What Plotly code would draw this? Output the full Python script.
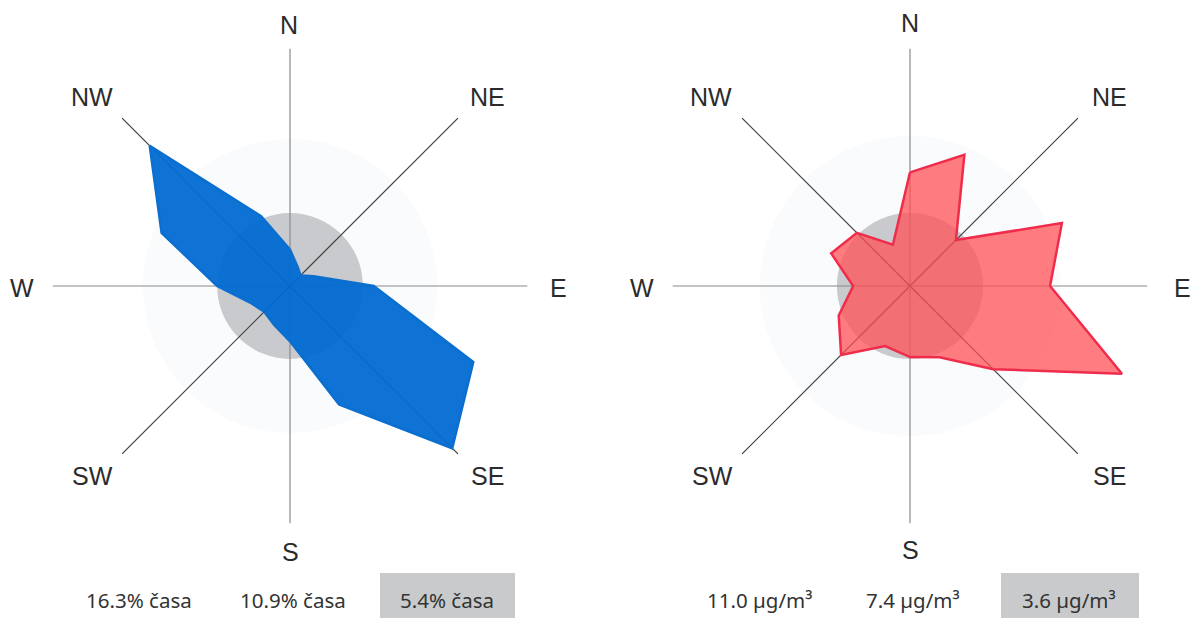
import plotly.graph_objects as go

# wind directions, clockwise from north
directions = [0, 22.5, 45, 67.5, 90, 112.5, 135, 157.5, 180, 202.5, 225, 247.5, 270, 292.5, 315, 337.5]

# share of time per direction (%)
time_values = [2.7, 1.5, 1.1, 1.9, 6.2, 14.7, 17.0, 9.5, 4.1, 3.1, 2.7, 3.2, 5.4, 10.3, 14.7, 5.6]
# concentration per direction (ug/m3)
conc_values = [5.6, 7.0, 3.2, 8.1, 6.9, 11.3, 5.8, 3.8, 3.5, 3.2, 4.8, 3.8, 2.8, 4.2, 3.7, 2.2]

time_rings = [10.9, 5.4]
conc_rings = [7.4, 3.6]
time_labels = ['16.3% časa', '10.9% časa', '5.4% časa']
conc_labels = ['11.0 µg/m³', '7.4 µg/m³', '3.6 µg/m³']

compass_names = ['N', 'NE', 'E', 'SE', 'S', 'SW', 'W', 'NW']
compass_angles = [0, 45, 90, 135, 180, 225, 270, 315]

W, H = 1191, 618


def px(x):
    return x / W


def py(y):
    return 1 - y / H


def add_rose(fig, subplot, values, rings, rmax, fill, line):
    ring_colors = ['#fafbfc', '#c9cacd']
    for ring, color in zip(rings, ring_colors):
        fig.add_trace(go.Barpolar(r=[ring], theta=[0], width=[360], marker=dict(color=color, line=dict(width=0)),
                                  subplot=subplot, hoverinfo='skip'))
    for angle in compass_angles:
        color = '#8a8a8a' if angle % 90 == 0 else '#3f3f3f'
        fig.add_trace(go.Scatterpolar(r=[0, rmax], theta=[angle, angle], mode='lines',
                                      line=dict(color=color, width=1.2), subplot=subplot, hoverinfo='skip'))
    fig.add_trace(go.Scatterpolar(r=values + values[:1], theta=directions + directions[:1], mode='lines',
                                  fill='toself', fillcolor=fill, line=dict(color=line, width=2.5),
                                  subplot=subplot))


fig = go.Figure()
add_rose(fig, 'polar', time_values, time_rings, 17.6, 'rgba(0,105,210,0.94)', '#0a6fce')
add_rose(fig, 'polar2', conc_values, conc_rings, 11.7, 'rgba(255,80,85,0.75)', '#f02c4c')

polar_style = dict(
    bgcolor='white',
    barmode='overlay',
    radialaxis=dict(visible=False),
    angularaxis=dict(visible=False, direction='clockwise', rotation=90, thetaunit='degrees'),
)

# compass labels
left_pos = [(289, 25), (487, 97), (558, 288), (487, 476), (290, 552), (92, 476), (22, 288), (92, 97)]
right_pos = [(910, 23), (1109, 97), (1182, 288), (1109, 476), (910, 550), (712, 476), (642, 288), (711, 97)]
annotations = []
for name, (x, y) in zip(compass_names * 2, left_pos + right_pos):
    annotations.append(dict(x=px(x), y=py(y), xref='paper', yref='paper', text=name, showarrow=False,
                            xanchor='center', yanchor='middle',
                            font=dict(family='Liberation Sans', size=25, color='#2b2b2b')))

# legend text under each rose
for label, x in zip(time_labels + conc_labels, [139, 293, 447, 759, 913, 1069]):
    annotations.append(dict(x=px(x), y=py(600), xref='paper', yref='paper', text=label, showarrow=False,
                            xanchor='center', yanchor='middle',
                            font=dict(family='Noto Sans', size=20.5, color='#333333')))

# grey legend boxes
shapes = []
for x0, x1 in [(380, 515), (1001, 1139)]:
    shapes.append(dict(type='rect', xref='paper', yref='paper', x0=px(x0), x1=px(x1), y0=py(618), y1=py(573),
                       fillcolor='#c9cacc', line=dict(width=0), layer='below'))

fig.update_layout(
    width=W,
    height=H,
    margin=dict(l=0, r=0, t=0, b=0),
    paper_bgcolor='white',
    showlegend=False,
    polar=dict(domain=dict(x=[px(52.5), px(527.5)], y=[py(523.5), py(48.5)]), radialaxis_range=[0, 17.6], **polar_style),
    polar2=dict(domain=dict(x=[px(672.5), px(1147.5)], y=[py(523.5), py(48.5)]), radialaxis_range=[0, 11.7], **polar_style),
    annotations=annotations,
    shapes=shapes,
)

# drop the page margin so the 1191x618 figure fills the window
fig.write_html("out.html", config=dict(displayModeBar=False), post_script="document.body.style.margin = '0';")
